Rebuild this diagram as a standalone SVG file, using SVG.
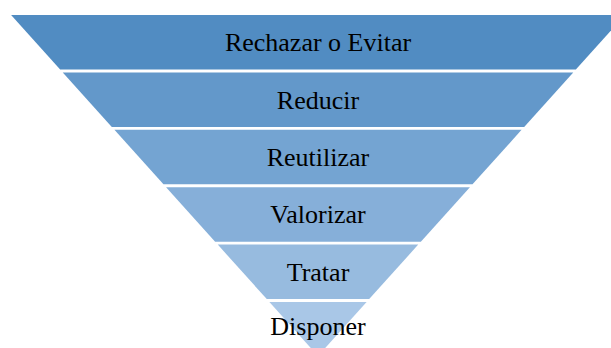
<svg xmlns="http://www.w3.org/2000/svg" width="611" height="348" viewBox="0 0 611 348">
<style>
.lbl{font-family:"Liberation Serif","Times New Roman",serif;font-size:26px;fill:#000;text-anchor:middle}
</style>
<rect width="611" height="348" fill="#fff"/>
<g id="n1"><polygon points="11.1,15 624.9,15 575.85,69.5 60.15,69.5" fill="#518CC2"/><text class="lbl" x="318" y="51">Rechazar o Evitar</text></g>
<g id="n2"><polygon points="62.76,72.4 573.24,72.4 524.19,126.9 111.81,126.9" fill="#6398CA"/><text class="lbl" x="318" y="109">Reducir</text></g>
<g id="n3"><polygon points="114.42,129.8 521.58,129.8 472.53,184.3 163.47,184.3" fill="#74A4D2"/><text class="lbl" x="318" y="166">Reutilizar</text></g>
<g id="n4"><polygon points="166.08,187.2 469.92,187.2 420.87,241.7 215.13,241.7" fill="#86AFD9"/><text class="lbl" x="318" y="222.5">Valorizar</text></g>
<g id="n5"><polygon points="217.74,244.6 418.26,244.6 369.21,299.1 266.79,299.1" fill="#97BBDF"/><text class="lbl" x="318" y="280.5">Tratar</text></g>
<g id="n6"><polygon points="269.4,302 366.6,302 318,356" fill="#A9C7E7"/><text class="lbl" x="318" y="334.5">Disponer</text></g>
<g id="connectors"></g>
</svg>
